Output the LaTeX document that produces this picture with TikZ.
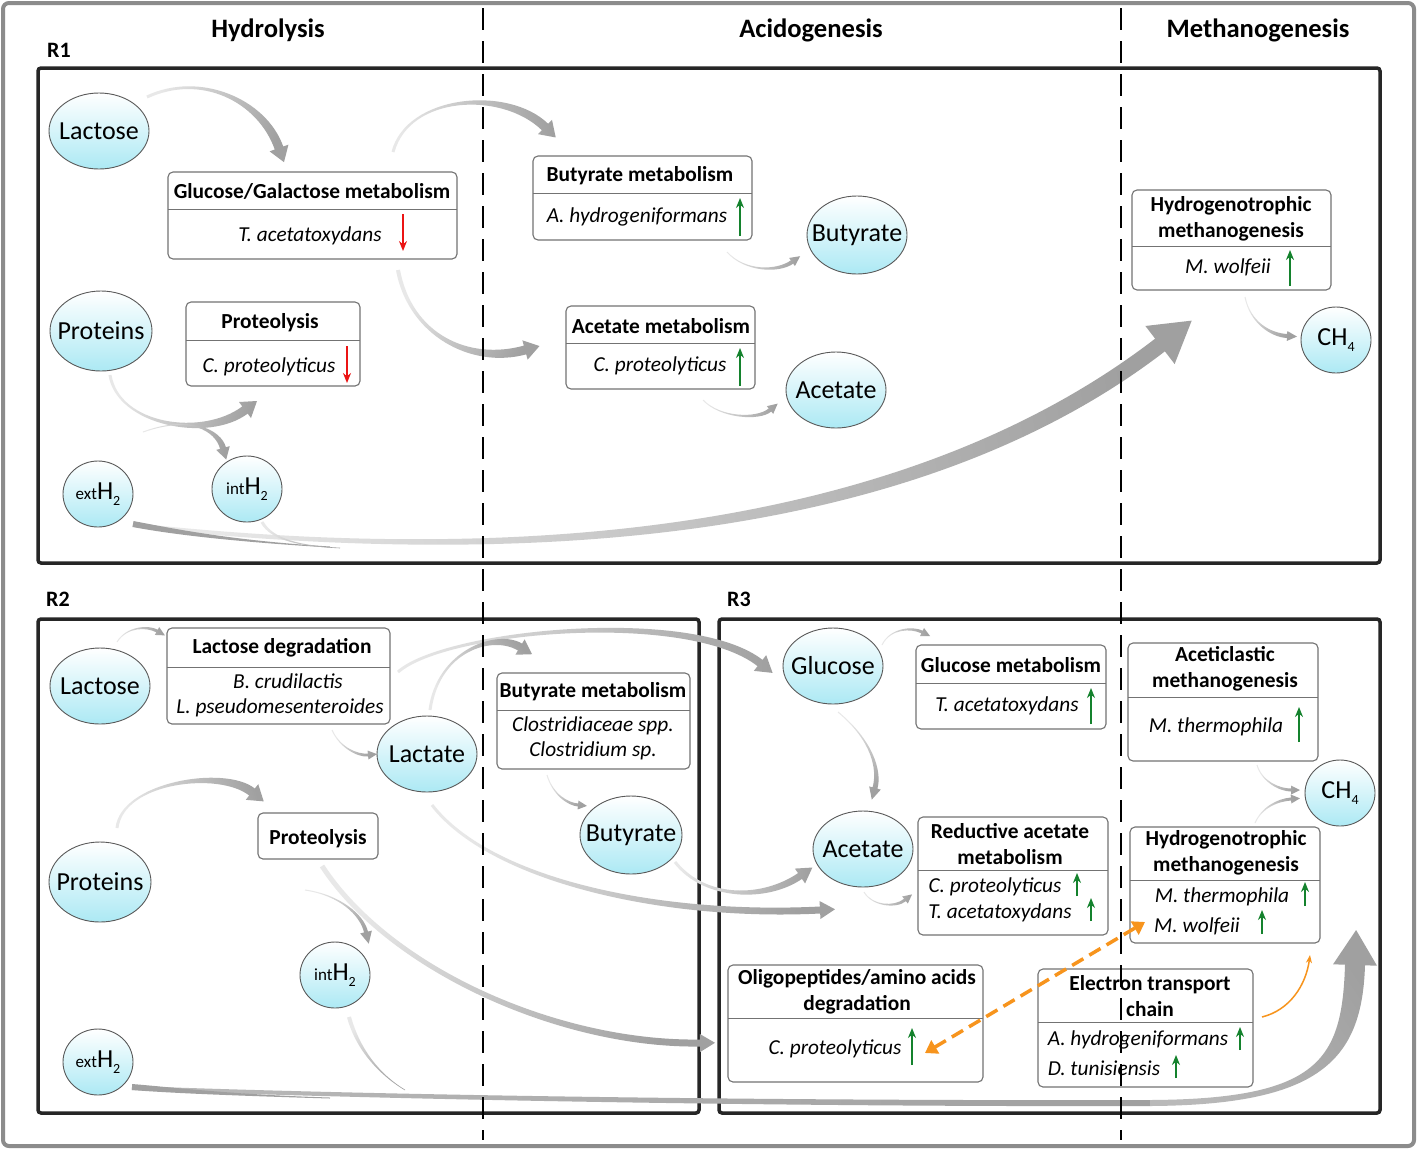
\documentclass[tikz,border=0pt]{standalone}
\usepackage{fontspec}
\setmainfont{Carlito}
\usetikzlibrary{shapes.geometric,calc,arrows.meta,fit}
\definecolor{ecyan}{RGB}{172,233,244}
\definecolor{upgreen}{RGB}{20,130,45}
\definecolor{dnred}{RGB}{235,20,20}
\definecolor{eorange}{RGB}{247,148,29}
\definecolor{framegray}{RGB}{140,140,140}
\definecolor{flowdark}{RGB}{160,160,160}
\definecolor{flowmid}{RGB}{185,185,185}
\definecolor{flowlight}{RGB}{232,232,232}
\newcommand\hsub[1]{\raisebox{-6pt}{\fontsize{14}{14}\selectfont #1}}
\newcommand\bt[1]{\makebox[0pt]{#1}}
% tapered, shaded flow arrow: [tail colour] P0 P1 P2 P3 w0 w1 headhalfwidth headlength
\newcommand\flow[9][flowlight]{%
 \path (#2) coordinate (fpA) (#5) coordinate (fpB);
 \pgfmathanglebetweenpoints{\pgfpointanchor{fpA}{center}}{\pgfpointanchor{fpB}{center}}%
 \pgfmathsetmacro\flowang{\pgfmathresult-90}%
 \shade[top color=flowdark, bottom color=#1, shading angle=\flowang]
   ($(#2)!#6!-90:(#3)$) .. controls ($(#3)!#6!90:(#2)$) and ($(#4)!#7!-90:(#5)$) .. ($(#5)!#7!90:(#4)$)
   -- ($(#5)!#8!90:(#4)$) -- ($(#5)!-#9!(#4)$) -- ($(#5)!#8!-90:(#4)$) -- ($(#5)!#7!-90:(#4)$)
   .. controls ($(#4)!#7!90:(#5)$) and ($(#3)!#6!-90:(#2)$) .. ($(#2)!#6!90:(#3)$) -- cycle;}
\tikzset{
 blob/.style={ellipse, draw=black!65, line width=0.9pt, top color=white, bottom color=ecyan, inner sep=0pt, font=\fontsize{26}{28}\selectfont},
 procbox/.style={draw=black!55, line width=1.1pt, rounded corners=5pt, fill=white, inner sep=0pt},
 divider/.style={draw=black!55, line width=1pt},
 ttl/.style={font=\bfseries\fontsize{21.4}{25.5}\selectfont, align=center, inner sep=0pt},
 spc/.style={font=\itshape\fontsize{21.3}{25}\selectfont, inner sep=0pt},
 upar/.style={draw=upgreen, line width=1.6pt, -{Stealth[length=10pt,width=8pt]}},
 dnar/.style={draw=dnred, line width=1.6pt, -{Stealth[length=10pt,width=8pt]}},
 region/.style={draw=black!85, line width=3.5pt, rounded corners=3pt},
 phase/.style={draw=black, line width=1.8pt, dash pattern=on 22pt off 11pt},
 heading/.style={font=\bfseries\fontsize{26.6}{29}\selectfont, inner sep=0pt},
 rlabel/.style={font=\bfseries\fontsize{22}{24}\selectfont, inner sep=0pt},
 odash/.style={draw=eorange, line width=3.5pt, dash pattern=on 13pt off 7pt},
}
\newcommand\pbox[3]{% name, corner nw, corner se
 \path (#2) coordinate (#1-nw) (#3) coordinate (#1-se);
 \node[procbox, fit=(#1-nw)(#1-se)] (#1) {};}
\begin{document}
\begin{tikzpicture}[x=1pt,y=-1pt]
\useasboundingbox (0,0) rectangle (1418,1149);
\fill[white] (0,0) rectangle (1418,1149);
\draw[draw=framegray, line width=4pt, rounded corners=6pt] (3,3) rectangle (1414,1146);

% headings
\node[heading] (hHyd) at (268,30) {Hydrolysis};
\node[heading] (hAci) at (811,30) {Acidogenesis};
\node[heading] (hMet) at (1258,30) {Methanogenesis};
\node[rlabel] (lR1) at (59,50) {R1};
\node[rlabel] (lR2) at (58,599) {R2};
\node[rlabel] (lR3) at (739,599) {R3};

% regions
\draw[region] (38,68) rectangle (1380,563);
\draw[region] (38,619) rectangle (699,1113);
\draw[region] (719,619) rectangle (1380,1113);

% ================= R1 flows =================
\flow{147,97}{200,72}{262,100}{279,148}{1.5pt}{4.5pt}{10pt}{15pt}
\flow{393,152}{408,95}{505,88}{545,127}{1.5pt}{4.5pt}{10pt}{15pt}
\flow{398,270}{410,335}{470,365}{525,350}{2pt}{4.5pt}{10pt}{15pt}
\flow{727,252}{745,272}{778,272}{792,262}{0.5pt}{2pt}{5pt}{10pt}
\flow{703,400}{720,418}{758,420}{770,410}{0.5pt}{2pt}{5pt}{10pt}
\flow{1245,297}{1250,322}{1270,335}{1287,336}{0.5pt}{2pt}{5pt}{10pt}
\flow{110,375}{118,425}{205,440}{245,410}{1.5pt}{4.5pt}{10pt}{15pt}
\flow{143,432}{190,415}{218,430}{223,448}{0.5pt}{3pt}{7pt}{12pt}
\flow{133,525}{500,565}{900,545}{1160,345}{2pt}{8pt}{24pt}{40pt}
\flow[flowdark]{133,524}{170,531}{230,541}{330,547}{3pt}{0.5pt}{0.5pt}{0pt}
\flow{262,522}{272,540}{300,546}{340,548}{1.5pt}{0.3pt}{0.3pt}{0pt}

% ================= R2 flows =================
\flow{117,642}{127,626}{148,626}{157,631}{0.5pt}{1.5pt}{4.5pt}{9pt}
\flow{332,730}{340,748}{358,756}{368,755}{0.5pt}{1.5pt}{4.5pt}{9pt}
\flow{398,672}{445,630}{690,608}{760,663}{1.5pt}{4pt}{10pt}{16pt}
\flow{430,710}{438,650}{495,632}{520,647}{1.5pt}{4pt}{9pt}{14pt}
\flow{547,775}{553,795}{568,804}{578,805}{0.5pt}{1.5pt}{4.5pt}{9pt}
\flow{432,805}{490,880}{660,918}{820,910}{1.5pt}{3.5pt}{9pt}{15pt}
\flow{675,862}{705,900}{765,900}{800,876}{1.5pt}{3.5pt}{9pt}{15pt}
\flow{117,828}{122,782}{222,768}{252,792}{1.5pt}{4.5pt}{10pt}{15pt}
\flow{322,866}{390,970}{560,1045}{700,1043}{2.5pt}{3.5pt}{9pt}{15pt}
\flow{305,890}{340,895}{362,915}{366,932}{0.5pt}{2pt}{6pt}{12pt}
\flow{349,1017}{358,1050}{380,1075}{405,1090}{2pt}{0.3pt}{0.3pt}{0pt}
\flow[flowmid]{132,1088}{400,1098}{800,1104}{1150,1103}{2pt}{3pt}{3pt}{0pt}
\flow[flowdark]{132,1087}{170,1090}{230,1095}{330,1098}{3pt}{0.5pt}{0.5pt}{0pt}
\flow[flowmid]{1150,1103}{1320,1102}{1352,1060}{1355,965}{3pt}{10pt}{22pt}{35pt}

% ================= R3 flows =================
\flow{882,645}{890,628}{912,627}{922,632}{0.5pt}{1.5pt}{4.5pt}{9pt}
\flow{838,712}{872,740}{880,770}{875,788}{0.5pt}{2.5pt}{6pt}{12pt}
\flow{864,892}{872,906}{895,908}{905,900}{0.5pt}{1.5pt}{4.5pt}{9pt}
\flow{1257,765}{1262,782}{1280,790}{1291,790}{0.5pt}{1.5pt}{4.5pt}{9pt}
\flow{1255,823}{1262,807}{1278,800}{1291,799}{0.5pt}{1.5pt}{4.5pt}{9pt}

% ================= R1 nodes =================
\node[blob, minimum width=100pt, minimum height=76pt] (lacA) at (99,131) {\bt{Lactose}};
\node[blob, minimum width=102pt, minimum height=80pt] (proA) at (101,331) {\bt{Proteins}};
\node[blob, minimum width=70pt, minimum height=66pt] (extA) at (98,494) {\bt{{\fontsize{17}{17}\selectfont ext}H\hsub{2}}};
\node[blob, minimum width=70pt, minimum height=66pt] (intA) at (247,489) {\bt{{\fontsize{17}{17}\selectfont int}H\hsub{2}}};
\node[blob, minimum width=100pt, minimum height=78pt] (butA) at (857,235) {\bt{Butyrate}};
\node[blob, minimum width=100pt, minimum height=76pt] (aceA) at (836,390) {\bt{Acetate}};
\node[blob, minimum width=70pt, minimum height=66pt] (chA) at (1336,340) {\bt{CH\hsub{4}}};

\pbox{ggm}{168,172}{457,259}
\draw[divider] (168,209) -- (457,209);
\node[ttl] (ggmT) at (312,191) {Glucose/Galactose metabolism};
\node[spc] (ggmS) at (310,236) {T. acetatoxydans};
\draw[dnar] (403,214) -- (403,251);

\pbox{prtA}{186,302}{360,386}
\draw[divider] (186,340) -- (360,340);
\node[ttl] (prtAT) at (270,323) {Proteolysis};
\node[spc] (prtAS) at (269,367) {C. proteolyticus};
\draw[dnar] (347,346) -- (347,383);

\pbox{bmA}{533,156}{752,240}
\draw[divider] (533,193) -- (752,193);
\node[ttl] (bmAT) at (640,176) {Butyrate metabolism};
\node[spc] (bmAS) at (637,217) {A. hydrogeniformans};
\draw[upar] (740,236) -- (740,198);

\pbox{amA}{566,306}{755,389}
\draw[divider] (566,343) -- (755,343);
\node[ttl] (amAT) at (661,326) {Acetate metabolism};
\node[spc] (amAS) at (660,366) {C. proteolyticus};
\draw[upar] (740,386) -- (740,348);

\pbox{hmA}{1132,190}{1331,290}
\draw[divider] (1132,246) -- (1331,246);
\node[ttl] (hmAT) at (1231,219) {Hydrogenotrophic\\methanogenesis};
\node[spc] (hmAS) at (1228,267) {M. wolfeii};
\draw[upar] (1290,286) -- (1290,250);

% ================= R2 nodes =================
\node[blob, minimum width=100pt, minimum height=76pt] (lacB) at (100,686) {\bt{Lactose}};
\node[blob, minimum width=100pt, minimum height=76pt] (lcB) at (427,754) {\bt{Lactate}};
\node[blob, minimum width=102pt, minimum height=80pt] (proB) at (100,882) {\bt{Proteins}};
\node[blob, minimum width=70pt, minimum height=66pt] (intB) at (335,975) {\bt{{\fontsize{17}{17}\selectfont int}H\hsub{2}}};
\node[blob, minimum width=70pt, minimum height=66pt] (extB) at (98,1062) {\bt{{\fontsize{17}{17}\selectfont ext}H\hsub{2}}};
\node[blob, minimum width=102pt, minimum height=78pt] (butB) at (631,835) {\bt{Butyrate}};

\pbox{ldB}{167,628}{390,724}
\draw[divider] (167,667) -- (390,667);
\node[ttl] (ldBT) at (282,648) {Lactose degradation};
\node[spc] (ldBS1) at (288,681) {B. crudilactis};
\node[spc] (ldBS2) at (280,708) {L. pseudomesenteroides};

\pbox{bmB}{497,673}{690,769}
\draw[divider] (497,710) -- (690,710);
\node[ttl] (bmBT) at (593,692) {Butyrate metabolism};
\node[spc] (bmBS1) at (593,726) {Clostridiaceae spp.};
\node[spc] (bmBS2) at (593,751) {Clostridium sp.};

\pbox{prtB}{258,813}{378,859}
\node[ttl] (prtBT) at (318,839) {Proteolysis};

% ================= R3 nodes =================
\node[blob, minimum width=100pt, minimum height=76pt] (gluC) at (833,666) {\bt{Glucose}};
\node[blob, minimum width=100pt, minimum height=76pt] (aceC) at (863,849) {\bt{Acetate}};
\node[blob, minimum width=70pt, minimum height=66pt] (chC) at (1340,793) {\bt{CH\hsub{4}}};

\pbox{gmC}{916,645}{1106,729}
\draw[divider] (916,683) -- (1106,683);
\node[ttl] (gmCT) at (1011,665) {Glucose metabolism};
\node[spc] (gmCS) at (1007,706) {T. acetatoxydans};
\draw[upar] (1091,724) -- (1091,688);

\pbox{acC}{1128,643}{1318,761}
\draw[divider] (1128,697) -- (1318,697);
\node[ttl] (acCT) at (1225,669) {Aceticlastic\\methanogenesis};
\node[spc] (acCS) at (1216,727) {M. thermophila};
\draw[upar] (1299,742) -- (1299,707);

\pbox{raC}{918,817}{1108,935}
\draw[divider] (918,870) -- (1108,870);
\node[ttl] (raCT) at (1010,844) {Reductive acetate\\metabolism};
\node[spc] (raCS1) at (995,887) {C. proteolyticus};
\node[spc] (raCS2) at (1000,913) {T. acetatoxydans};
\draw[upar] (1077,896) -- (1077,873);
\draw[upar] (1091,921) -- (1091,898);

\pbox{hmC}{1130,827}{1320,943}
\draw[divider] (1130,880) -- (1320,880);
\node[ttl] (hmCT) at (1226,853) {Hydrogenotrophic\\methanogenesis};
\node[spc] (hmCS1) at (1222,897) {M. thermophila};
\node[spc] (hmCS2) at (1197,926) {M. wolfeii};
\draw[upar] (1305,906) -- (1305,882);
\draw[upar] (1262,934) -- (1262,910);

\pbox{olC}{728,965}{983,1082}
\draw[divider] (728,1018) -- (983,1018);
\node[ttl] (olCT) at (857,992) {Oligopeptides/amino acids\\degradation};
\node[spc] (olCS) at (835,1049) {C. proteolyticus};
\draw[upar] (912,1065) -- (912,1028);

\pbox{etC}{1038,969}{1253,1087}
\draw[divider] (1038,1022) -- (1253,1022);
\node[ttl] (etCT) at (1150,996) {Electron transport\\chain};
\node[spc] (etCS1) at (1138,1040) {A. hydrogeniformans};
\node[spc] (etCS2) at (1104,1068) {D. tunisiensis};
\draw[upar] (1240,1050) -- (1240,1027);
\draw[upar] (1176,1078) -- (1176,1055);

% orange connectors
\coordinate (oA) at (925,1053);
\coordinate (oB) at (1145,922);
\draw[odash, {Triangle[length=12pt,width=15pt]}-{Triangle[length=12pt,width=15pt]}] (oA) -- (oB);
\coordinate (oC) at (1262,1017);
\coordinate (oD) at (1310,955);
\draw[draw=eorange, line width=1.5pt, -{Stealth[length=8pt,width=6pt]}] (oC) .. controls (1290,1010) and (1306,985) .. (oD);

% phase separators
\draw[phase] (483,8) -- (483,1140);
\draw[phase] (1121,8) -- (1121,1140);
\end{tikzpicture}
\end{document}
